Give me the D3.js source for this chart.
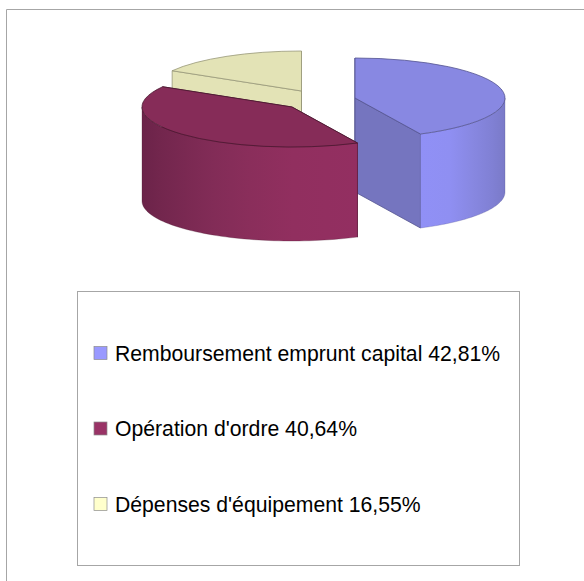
<!DOCTYPE html>
<html>
<head>
<meta charset="utf-8">
<style>
  html, body { margin: 0; background: #fff; }
  svg { display: block; }
  text { font-family: "Liberation Sans", Arial, sans-serif; fill: #000; }
</style>
</head>
<body>
<svg id="chart" width="584" height="581"></svg>
<script src="https://cdn.jsdelivr.net/npm/d3@7/dist/d3.min.js"></script>
<script>
"use strict";

const categories = ["Remboursement emprunt capital", "Opération d'ordre", "Dépenses d'équipement"];
const values = [42.81, 40.64, 16.55];
const valueLabels = ["42,81%", "40,64%", "16,55%"];
const legendColors = ["#9999ff", "#993366", "#ffffcc"];
const topColors = ["#8888e2", "#862c58", "#e3e3b6"];
const cutColors = ["#7575bf", "#7a2850", "#e3e3b6"];
const edgeColors = ["#53538f", "#4a1830", "#98987a"];
// ombrage du mur extérieur, par paliers comme dans l'image
const wallStops = [
  [[0, "#9090f6"], [0.35, "#8f8ff2"], [0.6, "#8888e2"], [0.85, "#8080d4"], [1, "#7a7ac8"]],
  [[0, "#6b2349"], [0.08, "#72264d"], [0.2, "#7a2952"], [0.33, "#822c57"], [0.5, "#8a2e5b"], [0.7, "#912f5f"], [1, "#932f61"]],
  [[0, "#e3e3b6"], [1, "#e3e3b6"]]
];

const width = 584;
const height = 581;
const rx = 150;
const ry = 40;
const depth = 94;
const centers = [[355, 98], [292, 107], [301.5, 91]];
const drawOrder = [2, 0, 1];

const svg = d3.select("#chart");
const defs = svg.append("defs");

// cadre extérieur, seuls les bords haut et gauche sont visibles
svg.append("path")
  .attr("d", `M${width},9.5H6.5V${height}`)
  .attr("fill", "none")
  .attr("stroke", "#a6a6a6")
  .attr("stroke-width", 1);

const slices = d3.pie().sort(null).value((d) => d)(values);
const topArc = d3.arc().innerRadius(0).outerRadius(rx);

function rim(c, a, drop) {
  return [c[0] + rx * Math.sin(a), c[1] - ry * Math.cos(a) + drop];
}

const line = d3.line();

drawOrder.forEach((i) => {
  const s = slices[i];
  const c = centers[i];
  const g = svg.append("g");
  const edge = edgeColors[i];

  // faces de coupe
  [s.startAngle, s.endAngle].forEach((a) => {
    const pts = [rim(c, a, 0), c, [c[0], c[1] + depth], rim(c, a, depth)];
    g.append("path")
      .attr("d", line(pts) + "Z")
      .attr("fill", cutColors[i])
      .attr("stroke", edge)
      .attr("stroke-width", 0.8);
  });

  // mur extérieur, seulement la partie tournée vers l'avant
  const a0 = Math.max(s.startAngle, Math.PI / 2);
  const a1 = Math.min(s.endAngle, Math.PI * 1.5);
  if (a1 > a0) {
    const steps = d3.range(0, 61).map((k) => a0 + (a1 - a0) * k / 60);
    const upper = steps.map((a) => rim(c, a, 0));
    const lower = steps.slice().reverse().map((a) => rim(c, a, depth));
    const xs = d3.extent(upper, (p) => p[0]);
    const grad = defs.append("linearGradient")
      .attr("id", "wall" + i)
      .attr("gradientUnits", "userSpaceOnUse")
      .attr("x1", xs[0]).attr("x2", xs[1])
      .attr("y1", 0).attr("y2", 0);
    // le bleu s'assombrit vers la droite, le bordeaux vers la gauche
    wallStops[i].forEach((st) => {
      grad.append("stop")
        .attr("offset", st[0])
        .attr("stop-color", st[1]);
    });
    g.append("path")
      .attr("d", line(upper.concat(lower)) + "Z")
      .attr("fill", `url(#wall${i})`)
      .attr("stroke", edge)
      .attr("stroke-opacity", 0.35)
      .attr("stroke-width", 0.8);
  }

  // dessus de la part
  g.append("path")
    .attr("d", topArc(s))
    .attr("transform", `translate(${c[0]},${c[1]}) scale(1,${ry / rx})`)
    .attr("fill", topColors[i])
    .attr("stroke", edge)
    .attr("stroke-width", 0.8)
    .attr("vector-effect", "non-scaling-stroke");
});

// légende
svg.append("rect")
  .attr("x", 77.5).attr("y", 291.5)
  .attr("width", 442).attr("height", 274)
  .attr("fill", "#fff")
  .attr("stroke", "#a6a6a6");

const legendY = d3.scalePoint().domain(categories).range([353, 504]);

const items = svg.selectAll("g.legend")
  .data(categories)
  .enter()
  .append("g")
  .attr("class", "legend")
  .attr("transform", (d) => `translate(0,${legendY(d)})`);

items.append("rect")
  .attr("x", 94).attr("y", -6.5)
  .attr("width", 13).attr("height", 13)
  .attr("fill", (d, i) => legendColors[i])
  .attr("stroke", "#8c8c8c")
  .attr("stroke-width", 0.7);

items.append("text")
  .attr("x", 115)
  .attr("y", 7.5)
  .attr("font-size", 21.2)
  .text((d, i) => `${d} ${valueLabels[i]}`);
</script>
</body>
</html>
